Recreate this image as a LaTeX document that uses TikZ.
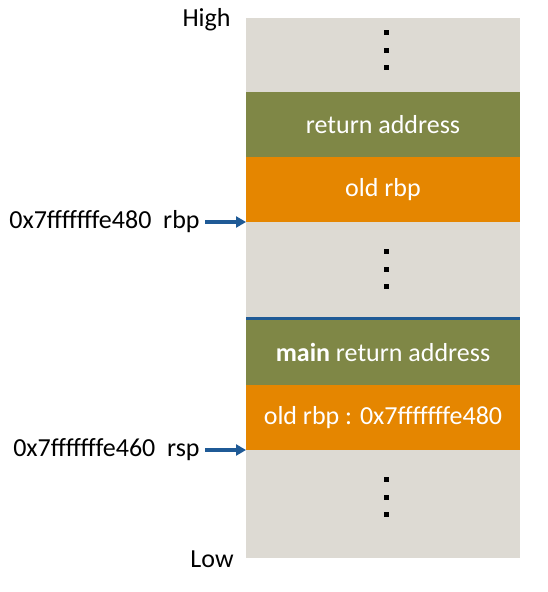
\documentclass[tikz,border=0pt]{standalone}
\usepackage{fontspec}
\setmainfont{Carlito}
\usetikzlibrary{positioning,arrows.meta}
\definecolor{slotgrey}{HTML}{DDDAD3}
\definecolor{slotgreen}{HTML}{7F8746}
\definecolor{slotorange}{HTML}{E58600}
\definecolor{ptrblue}{HTML}{1F5A96}

\begin{document}
\begin{tikzpicture}[x=0.5pt,y=-0.5pt,
    every node/.style={font=\fontsize{13}{15.5}\selectfont},
    slot/.style={minimum width=137pt,inner sep=0pt,outer sep=0pt,text=white},
    dot/.style={fill=black,minimum size=2.5pt,inner sep=0pt},
    ptr/.style={ptrblue,line width=1.6pt,-{Triangle[length=5pt,width=5.5pt]}}]
\useasboundingbox (0,0) rectangle (547,592);

\node (topgap) [slot,fill=slotgrey,minimum height=37pt,anchor=north west] at (246,18) {};
\node (ret) [slot,fill=slotgreen,minimum height=32.5pt,below=0pt of topgap] {return address};
\node (oldrbp) [slot,fill=slotorange,minimum height=32.5pt,below=0pt of ret] {old rbp};
\node (midgap) [slot,fill=slotgrey,minimum height=47.5pt,below=0pt of oldrbp] {};
\node (mainret) [slot,fill=slotgreen,minimum height=32.5pt,below=1.5pt of midgap] {\textbf{main} return address};
\node (oldrbpmain) [slot,fill=slotorange,minimum height=32.5pt,below=0pt of mainret] {old rbp : 0x7fffffffe480};
\node (lowgap) [slot,fill=slotgrey,minimum height=54pt,below=0pt of oldrbpmain] {};
\draw [ptrblue,line width=1.5pt] ([yshift=-0.75pt]midgap.south west) -- ([yshift=-0.75pt]midgap.south east);

\foreach \y in {33,51,68,252,270,287,479,497,514}
    \node (d\y) [dot] at (386,\y) {};

\node (high) [anchor=base east,inner sep=0pt] at (231,27) {High};
\node (low) [anchor=base east,inner sep=0pt] at (234,567) {Low};
\node (rbplbl) [anchor=east,inner xsep=2.5pt,inner ysep=0pt] at (205,222) {0x7fffffffe480\ \ rbp};
\node (rsplbl) [anchor=east,inner xsep=2.5pt,inner ysep=0pt] at (205,450) {0x7fffffffe460\ \ rsp};
\draw [ptr] (rbplbl.east) -- (oldrbp.south west);
\draw [ptr] (rsplbl.east) -- (oldrbpmain.south west);

\end{tikzpicture}
\end{document}
